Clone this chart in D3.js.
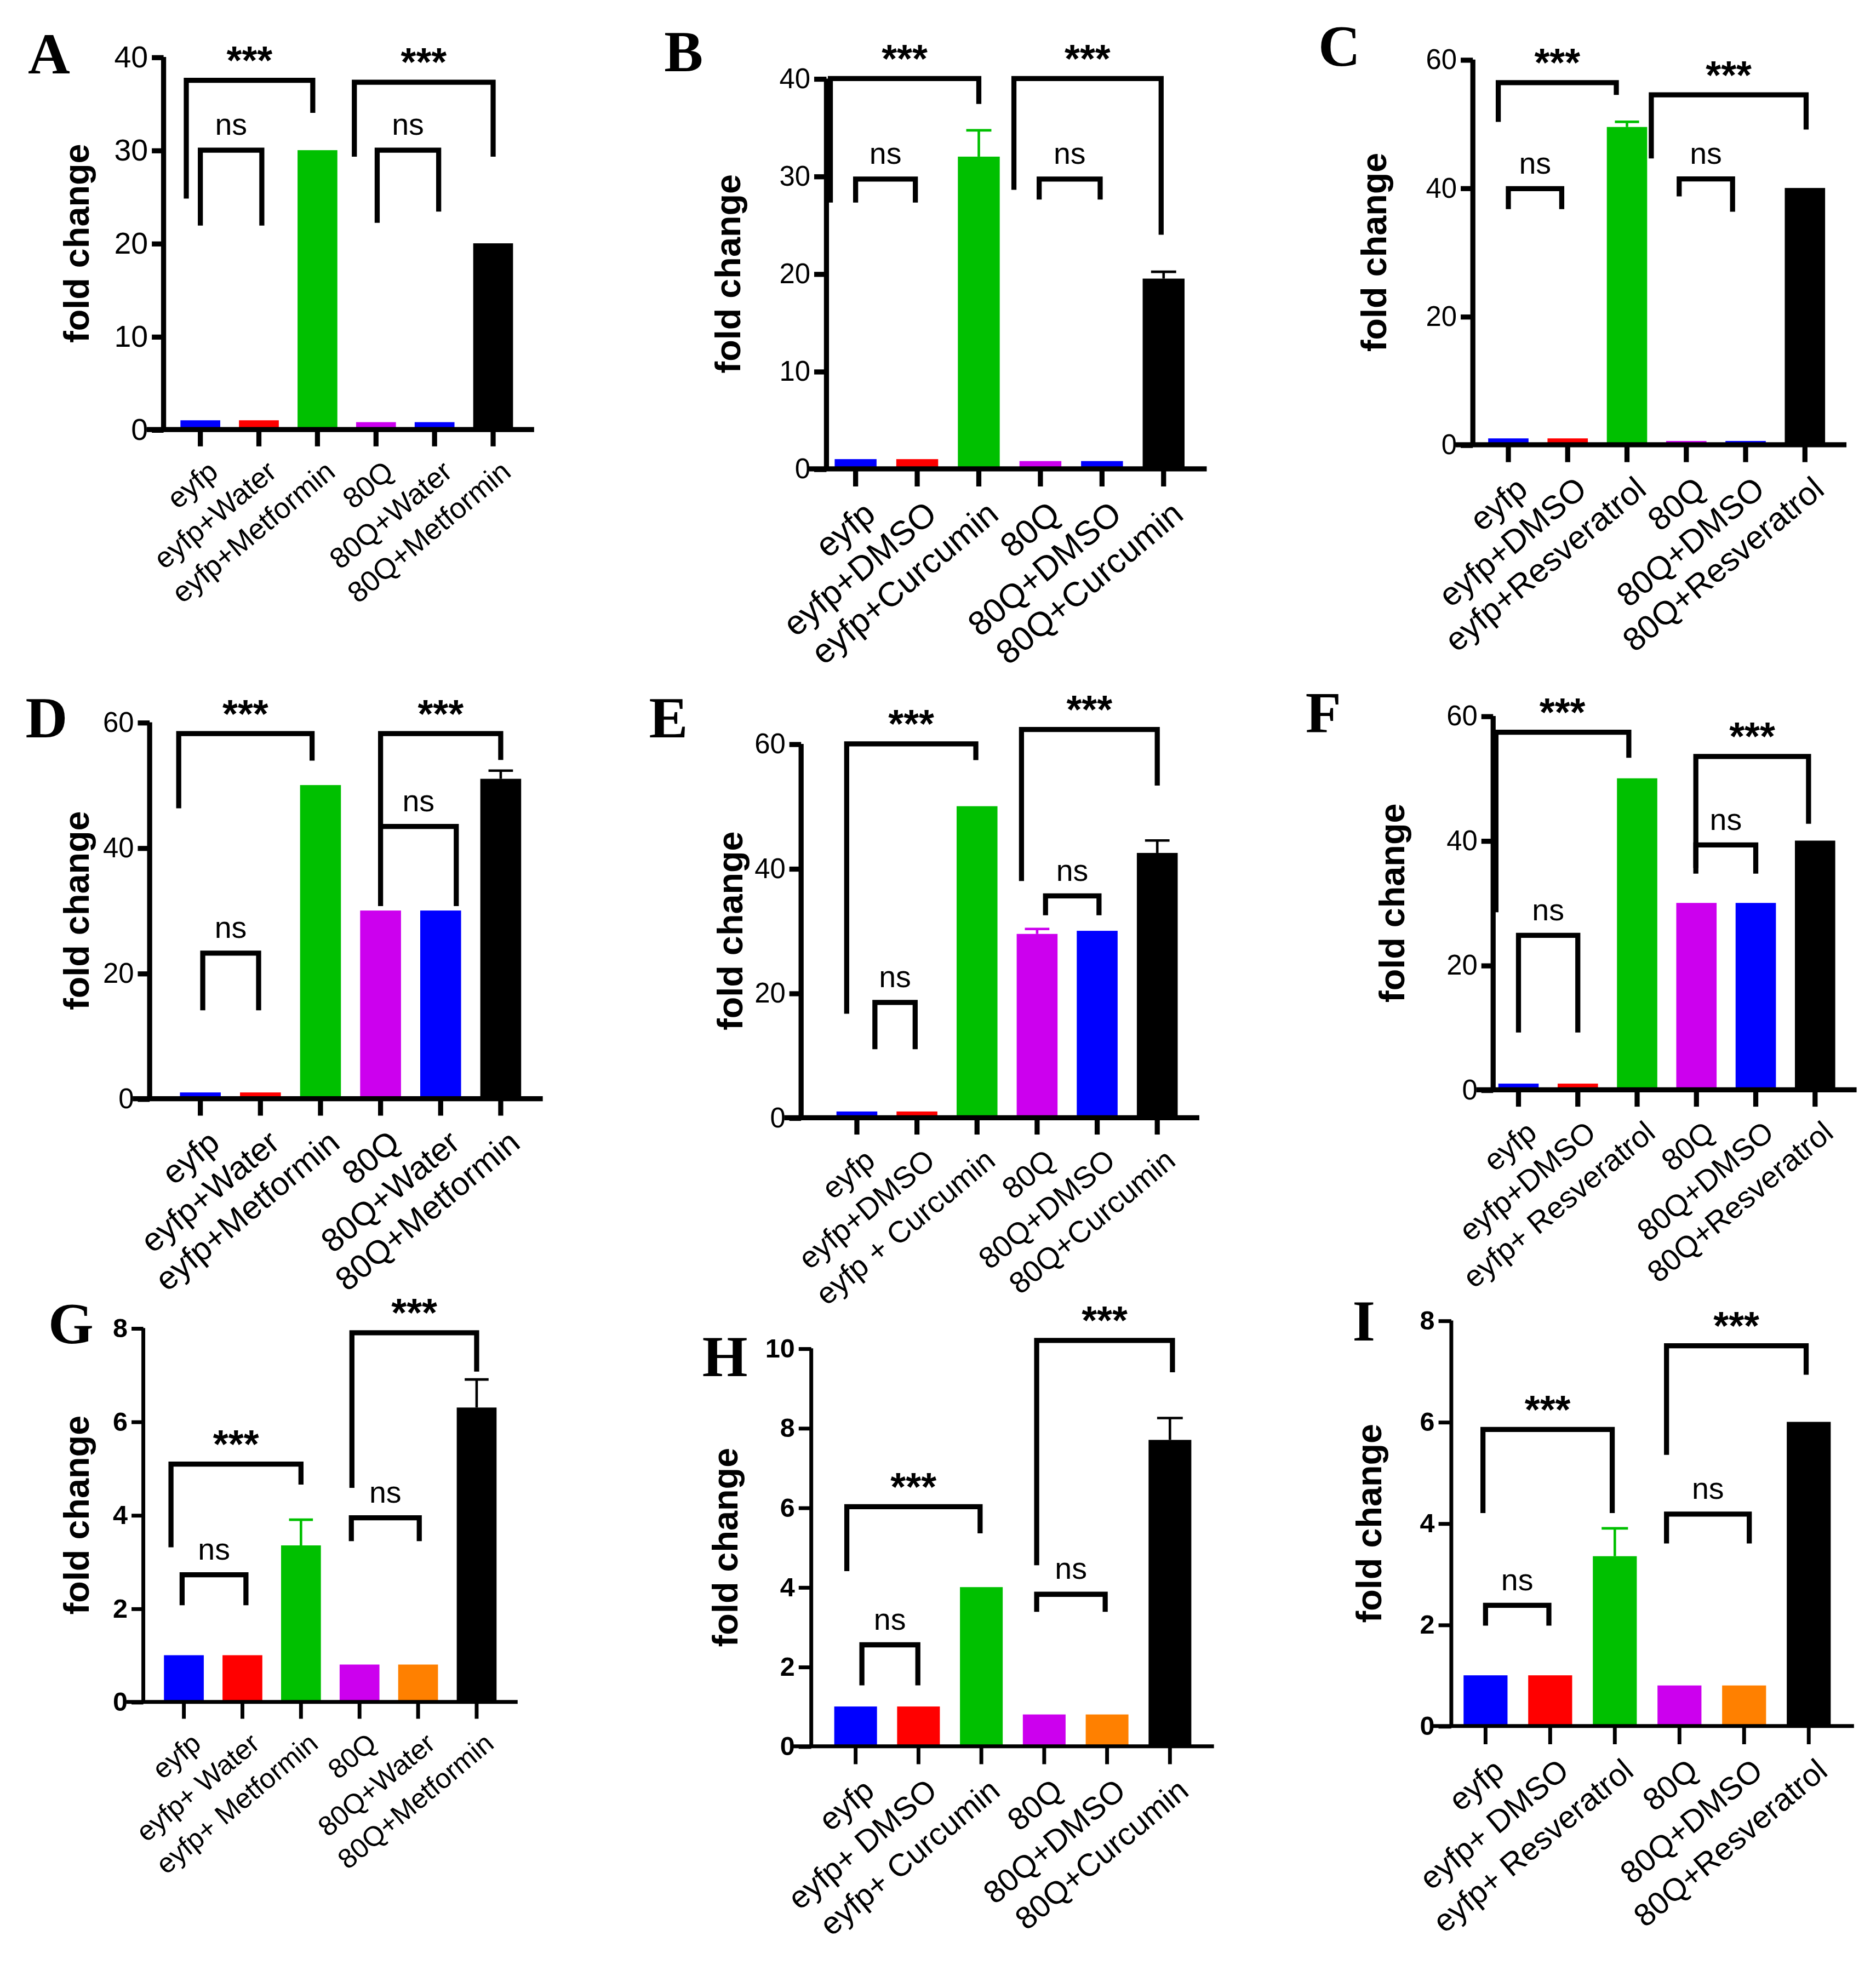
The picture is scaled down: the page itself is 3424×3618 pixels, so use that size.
<!DOCTYPE html>
<html>
<head>
<meta charset="utf-8">
<script src="https://cdn.jsdelivr.net/npm/d3@7"></script>
<style>
body { margin: 0; background: white; }
text { font-family: Arial, "Liberation Sans", sans-serif; }
</style>
</head>
<body>
<svg id="fig" width="3424" height="3618" viewBox="0 0 1480 1564"></svg>
<script>
// ---- data ----
const labelsMetformin = ["eyfp", "eyfp+Water", "eyfp+Metformin", "80Q", "80Q+Water", "80Q+Metformin"];
const labelsCurcumin = ["eyfp", "eyfp+DMSO", "eyfp+Curcumin", "80Q", "80Q+DMSO", "80Q+Curcumin"];
const labelsResveratrol = ["eyfp", "eyfp+DMSO", "eyfp+Resveratrol", "80Q", "80Q+DMSO", "80Q+Resveratrol"];
const labelsE = ["eyfp", "eyfp+DMSO", "eyfp + Curcumin", "80Q", "80Q+DMSO", "80Q+Curcumin"];
const labelsF = ["eyfp", "eyfp+DMSO", "eyfp+ Resveratrol", "80Q", "80Q+DMSO", "80Q+Resveratrol"];
const labelsG = ["eyfp", "eyfp+ Water", "eyfp+ Metformin", "80Q", "80Q+Water", "80Q+Metformin"];
const labelsH = ["eyfp", "eyfp+ DMSO", "eyfp+ Curcumin", "80Q", "80Q+DMSO", "80Q+Curcumin"];
const labelsI = ["eyfp", "eyfp+ DMSO", "eyfp+ Resveratrol", "80Q", "80Q+DMSO", "80Q+Resveratrol"];

const valuesA = [1, 1, 30, 0.8, 0.8, 20];
const valuesB = [1, 1, 32, 0.8, 0.8, 19.5];
const errB = [0, 0, 34.7, 0, 0, 20.2];
const valuesC = [1, 1, 49.5, 0.6, 0.6, 40];
const errC = [0, 0, 50.3, 0, 0, 0];
const valuesD = [1, 1, 50, 30, 30, 51];
const errD = [0, 0, 0, 0, 0, 52.3];
const valuesE = [1, 1, 50, 29.5, 30, 42.5];
const errE = [0, 0, 0, 30.3, 0, 44.5];
const valuesF = [1, 1, 50, 30, 30, 40];
const valuesG = [1, 1, 3.35, 0.8, 0.8, 6.3];
const errG = [0, 0, 3.9, 0, 0, 6.9];
const valuesH = [1, 1, 4, 0.8, 0.8, 7.7];
const errH = [0, 0, 0, 0, 0, 8.25];
const valuesI = [1, 1, 3.35, 0.8, 0.8, 6];
const errI = [0, 0, 3.9, 0, 0, 0];

const colorsBlue = ["#0000ff", "#ff0000", "#00c000", "#cc00ee", "#0000ff", "#000000"];
const colorsOrange = ["#0000ff", "#ff0000", "#00c000", "#cc00ee", "#ff8000", "#000000"];

// brackets: [from index, to index, top value, left end value, right end value, label]
const bracketsA = [[-0.24, 1.92, 37.5, 24.8, 34, "***"], [0, 1.05, 30, 21.9, 21.9, "ns"],
                   [2.63, 5, 37.3, 29.3, 29.3, "***"], [3.02, 4.07, 30, 22.2, 23.4, "ns"]];
const bracketsB = [[-0.41, 2, 40, 27.3, 37.4, "***"], [0, 0.97, 29.7, 27.3, 27.3, "ns"],
                   [2.57, 4.96, 40, 28.6, 24, "***"], [2.98, 3.97, 29.7, 27.6, 27.6, "ns"]];
const bracketsC = [[-0.17, 1.82, 56.4, 50.3, 54.5, "***"], [0, 0.9, 39.9, 36.7, 36.7, "ns"],
                   [2.41, 5.02, 54.5, 44.6, 49.1, "***"], [2.88, 3.78, 41.4, 38.7, 36.3, "ns"]];
const bracketsD = [[-0.36, 1.86, 58.2, 46.3, 53.9, "***"], [0.04, 0.97, 23.2, 14.1, 14.1, "ns"],
                   [3, 5, 58.2, 43.8, 54, "***"], [3, 4.26, 43.4, 30.7, 30.7, "ns"]];
const bracketsE = [[-0.17, 1.98, 60, 16.7, 57.4, "***"], [0.3, 0.97, 18.5, 11, 11, "ns"],
                   [2.74, 5, 62.3, 38, 53.3, "***"], [3.14, 4.03, 35.6, 32.5, 32.5, "ns"]];
const bracketsF = [[-0.38, 1.86, 57.4, 28.5, 53.3, "***"], [0, 1, 24.8, 9.2, 9.2, "ns"],
                   [2.99, 4.89, 53.5, 35.6, 42.7, "***"], [2.99, 4, 39.3, 34.7, 34.7, "ns"]];
const bracketsG = [[-0.22, 2, 5.09, 3.31, 4.65, "***"], [-0.03, 1.06, 2.72, 2.07, 2.07, "ns"],
                   [2.87, 5, 7.9, 4.58, 7.07, "***"], [2.86, 4.02, 3.94, 3.44, 3.44, "ns"]];
const bracketsH = [[-0.14, 1.98, 6.02, 4.4, 5.35, "***"], [0.1, 0.99, 2.55, 1.53, 1.53, "ns"],
                   [2.88, 5.04, 10.2, 4.55, 9.4, "***"], [2.88, 3.97, 3.82, 3.38, 3.38, "ns"]];
const bracketsI = [[-0.04, 1.96, 5.85, 4.2, 4.2, "***"], [0, 0.98, 2.38, 1.98, 1.98, "ns"],
                   [2.8, 4.96, 7.5, 5.35, 6.93, "***"], [2.8, 4.08, 4.18, 3.6, 3.6, "ns"]];

const ticks40 = [0, 10, 20, 30, 40];
const ticks60 = [0, 20, 40, 60];
const ticks8 = [0, 2, 4, 6, 8];
const ticks10 = [0, 2, 4, 6, 8, 10];

// ---- layout ----
const panels = [
  {id: "A", lab: labelsMetformin, val: valuesA, err: null, col: colorsBlue, br: bracketsA, ticks: ticks40,
   ax: 129, top: 45, zero: 339, c0: 158, sp: 46.2, lx: 22, ly: 58, yl: 60, fs: 23, tfs: 24, bold: false},
  {id: "B", lab: labelsCurcumin, val: valuesB, err: errB, col: colorsBlue, br: bracketsB, ticks: ticks40,
   ax: 652, top: 62, zero: 370, c0: 675, sp: 48.6, lx: 524, ly: 56, yl: 574, fs: 27, tfs: 22, bold: false},
  {id: "C", lab: labelsResveratrol, val: valuesC, err: errC, col: colorsBlue, br: bracketsC, ticks: ticks60,
   ax: 1162, top: 47, zero: 351, c0: 1190, sp: 46.8, lx: 1040, ly: 52, yl: 1084, fs: 26, tfs: 22, bold: false},
  {id: "D", lab: labelsMetformin, val: valuesD, err: errD, col: colorsBlue, br: bracketsD, ticks: ticks60,
   ax: 118, top: 570, zero: 867, c0: 158, sp: 47.4, lx: 20, ly: 582, yl: 60, fs: 26, tfs: 22, bold: false},
  {id: "E", lab: labelsE, val: valuesE, err: errE, col: colorsBlue, br: bracketsE, ticks: ticks60,
   ax: 632, top: 587, zero: 882, c0: 676, sp: 47.4, lx: 512, ly: 582, yl: 576, fs: 24, tfs: 22, bold: false},
  {id: "F", lab: labelsF, val: valuesF, err: null, col: colorsBlue, br: bracketsF, ticks: ticks60,
   ax: 1178, top: 565, zero: 860, c0: 1198, sp: 46.8, lx: 1030, ly: 578, yl: 1098, fs: 24, tfs: 22, bold: false},
  {id: "G", lab: labelsG, val: valuesG, err: errG, col: colorsOrange, br: bracketsG, ticks: ticks8,
   ax: 113, top: 1048, zero: 1343, c0: 145, sp: 46.2, lx: 38, ly: 1060, yl: 60, fs: 22, tfs: 21, bold: true},
  {id: "H", lab: labelsH, val: valuesH, err: errH, col: colorsOrange, br: bracketsH, ticks: ticks10,
   ax: 640, top: 1064, zero: 1378, c0: 675, sp: 49.6, lx: 554, ly: 1086, yl: 572, fs: 25, tfs: 21, bold: true},
  {id: "I", lab: labelsI, val: valuesI, err: errI, col: colorsOrange, br: bracketsI, ticks: ticks8,
   ax: 1145, top: 1042, zero: 1362, c0: 1172, sp: 51, lx: 1067, ly: 1058, yl: 1080, fs: 25, tfs: 21, bold: true}
];

const svg = d3.select("#fig");

panels.forEach(p => {
  const g = svg.append("g");
  const ymax = p.ticks[p.ticks.length - 1];
  const y = d3.scaleLinear().domain([0, ymax]).range([p.zero, p.top]);
  const x = d3.scaleLinear().domain([0, 1]).range([p.c0, p.c0 + p.sp]);
  const bw = p.sp * 0.68;
  const lw = p.bold ? 3 : 4;
  const tickLen = (p.zero - p.top) * 0.045;

  // panel letter
  g.append("text").attr("x", p.lx).attr("y", p.ly)
    .style("font-family", "'Liberation Serif', 'Times New Roman', serif")
    .style("font-weight", "bold").style("font-size", "46px").text(p.id);

  // y label
  g.append("text")
    .attr("transform", `translate(${p.yl},${(p.top + p.zero) / 2}) rotate(-90)`)
    .attr("text-anchor", "middle").attr("dy", "0.35em")
    .style("font-weight", "bold").style("font-size", "28px").text("fold change");

  // bars
  g.selectAll("rect.bar").data(p.val).join("rect")
    .attr("x", (d, i) => x(i) - bw / 2).attr("width", bw)
    .attr("y", d => y(d)).attr("height", d => y(0) - y(d))
    .attr("fill", (d, i) => p.col[i]);

  // error bars
  if (p.err) {
    p.err.forEach((e, i) => {
      if (!e) return;
      g.append("line").attr("x1", x(i)).attr("x2", x(i)).attr("y1", y(p.val[i])).attr("y2", y(e))
        .attr("stroke", p.col[i]).attr("stroke-width", 2);
      g.append("line").attr("x1", x(i) - bw * 0.3).attr("x2", x(i) + bw * 0.3).attr("y1", y(e)).attr("y2", y(e))
        .attr("stroke", p.col[i]).attr("stroke-width", 2);
    });
  }

  // y axis
  const yAxis = d3.axisLeft(y).tickValues(p.ticks).tickSize(tickLen * 0.7).tickPadding(3);
  const ya = g.append("g").attr("transform", `translate(${p.ax},0)`).call(yAxis);
  ya.select(".domain").attr("stroke", "#000").attr("stroke-width", lw)
    .attr("d", `M0,${p.top}V${p.zero}`);
  ya.selectAll(".tick line").attr("stroke-width", lw);
  ya.selectAll(".tick text").style("font-size", p.tfs + "px")
    .style("font-weight", p.bold ? "bold" : "normal").style("font-family", "Arial, 'Liberation Sans', sans-serif")
    .attr("fill", "#000");

  // x axis
  const xEnd = x(5.7);
  g.append("line").attr("x1", p.ax - tickLen).attr("x2", xEnd).attr("y1", p.zero).attr("y2", p.zero)
    .attr("stroke", "#000").attr("stroke-width", lw);
  p.lab.forEach((l, i) => {
    g.append("line").attr("x1", x(i)).attr("x2", x(i)).attr("y1", p.zero).attr("y2", p.zero + tickLen)
      .attr("stroke", "#000").attr("stroke-width", lw);
    g.append("text")
      .attr("transform", `translate(${x(i) + 5},${p.zero + tickLen + 10}) rotate(-40)`)
      .attr("text-anchor", "end").attr("dy", "0.7em")
      .style("font-size", p.fs + "px").text(l);
  });

  // significance brackets
  p.br.forEach(b => {
    const x1 = x(b[0]), x2 = x(b[1]), yt = y(b[2]);
    g.append("path")
      .attr("d", `M${x1},${y(b[3])}V${yt}H${x2}V${y(b[4])}`)
      .attr("fill", "none").attr("stroke", "#000").attr("stroke-width", 4);
    g.append("text").attr("x", (x1 + x2) / 2).attr("y", b[5] === "***" ? yt - 5 : yt - 12)
      .attr("text-anchor", "middle")
      .style("font-size", b[5] === "***" ? "31px" : "24px")
      .style("font-weight", b[5] === "***" ? "bold" : "normal")
      .text(b[5]);
  });
});
</script>
</body>
</html>
